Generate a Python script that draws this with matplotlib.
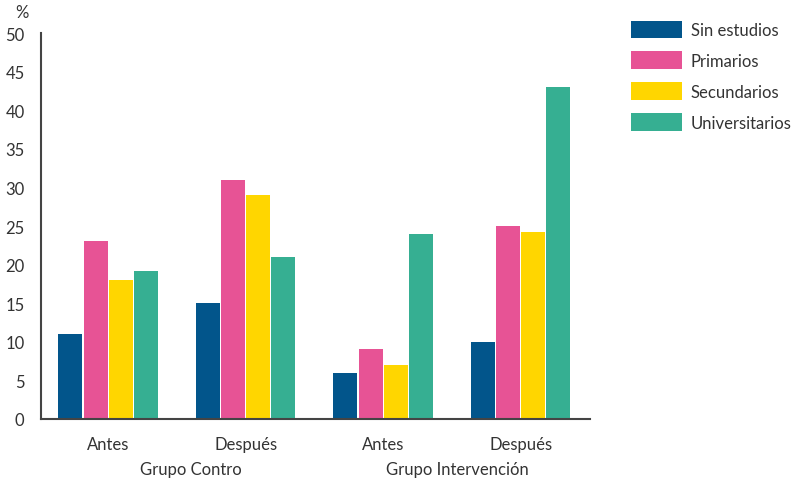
import matplotlib.pyplot as plt
from matplotlib import rcParams
import numpy as np

rcParams['font.family'] = 'Lato'
rcParams['font.size'] = 12
rcParams['text.color'] = '#333333'

# data
periods = ['Antes', 'Después', 'Antes', 'Después']
groups = ['Grupo Contro', 'Grupo Intervención']
series = ['Sin estudios', 'Primarios', 'Secundarios', 'Universitarios']
sin_estudios = [11, 15, 6, 10]
primarios = [23, 31, 9, 25]
secundarios = [18, 29, 7, 24.2]
universitarios = [19.2, 21, 24, 43]
yticks = [0, 5, 10, 15, 20, 25, 30, 35, 40, 45, 50]

colors = ['#02558B', '#E75395', '#FFD600', '#36AF92']

fig = plt.figure(figsize=(7.92, 4.81), dpi=100)
ax = fig.add_axes([0.052, 0.127, 0.693, 0.802])

x = np.arange(len(periods))
width = 0.175
step = 0.183
values = [sin_estudios, primarios, secundarios, universitarios]
for i, (name, vals) in enumerate(zip(series, values)):
    ax.bar(x + (i - 1.5) * step, vals, width, color=colors[i], label=name)

ax.set_xlim(-0.487, 3.505)
ax.set_ylim(0, 50)
ax.set_yticks(yticks)
ax.set_xticks(x)
ax.set_xticklabels(periods)
ax.tick_params(axis='both', length=0, colors='#333333', labelsize=12)
ax.tick_params(axis='x', pad=12)
ax.tick_params(axis='y', pad=12)

for s in ['top', 'right']:
    ax.spines[s].set_visible(False)
for s in ['left', 'bottom']:
    ax.spines[s].set_color('#444444')
    ax.spines[s].set_linewidth(1.5)

# group labels under the period labels
for gx, g in zip([0.6, 2.54], groups):
    ax.text(gx, -0.13, g, transform=ax.get_xaxis_transform(), ha='center', va='center', fontsize=12)

fig.text(0.028, 0.972, '%', ha='center', va='center', fontsize=12)

ax.legend(loc='upper left', bbox_to_anchor=(1.062, 1.05), frameon=False,
          handlelength=3.05, handleheight=1.25, labelspacing=0.8,
          handletextpad=0.55, fontsize=12, borderaxespad=0)

fig.savefig('out.png', dpi=100)
